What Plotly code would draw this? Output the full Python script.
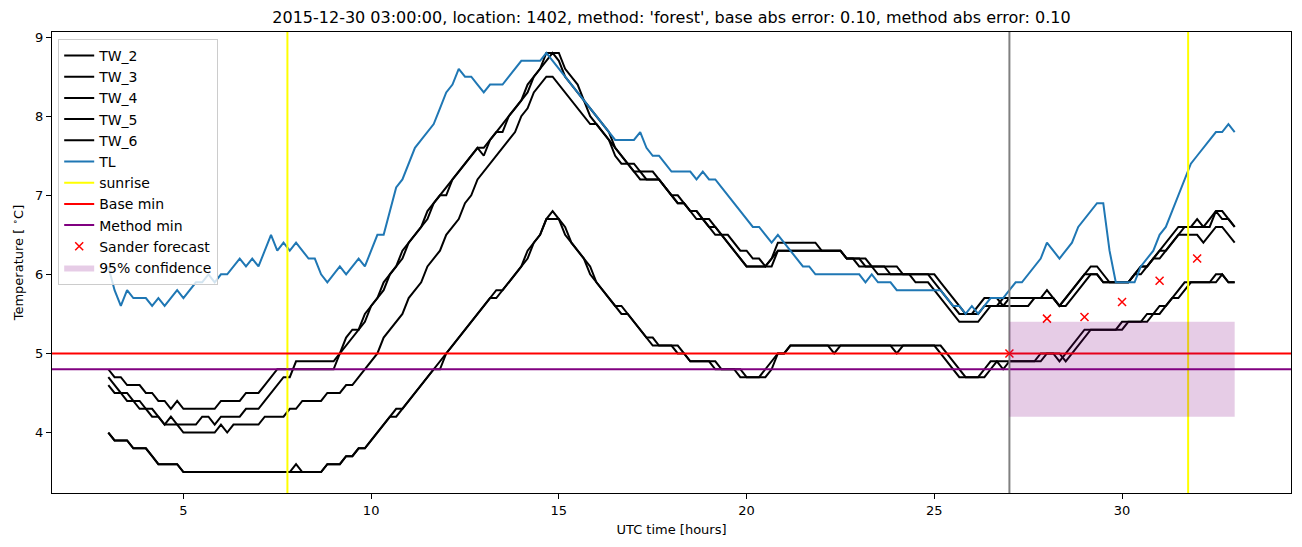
import plotly.graph_objects as go

# ---------------- data (10-minute samples, t = 3 .. 33 h) ----------------
t_start = 3.0
t_step = 1.0 / 6.0

TL = [
    6.1, 5.8, 5.6, 5.8, 5.7, 5.7,
    5.7, 5.6, 5.7, 5.6, 5.7, 5.8,
    5.7, 5.8, 5.9, 5.9, 6.0, 5.9,
    6.0, 6.0, 6.1, 6.2, 6.1, 6.2,
    6.1, 6.3, 6.5, 6.3, 6.4, 6.3,
    6.4, 6.3, 6.2, 6.2, 6.0, 5.9,
    6.0, 6.1, 6.0, 6.1, 6.2, 6.1,
    6.3, 6.5, 6.5, 6.8, 7.1, 7.2,
    7.4, 7.6, 7.7, 7.8, 7.9, 8.1,
    8.3, 8.4, 8.6, 8.5, 8.5, 8.4,
    8.3, 8.4, 8.4, 8.4, 8.5, 8.6,
    8.7, 8.7, 8.7, 8.7, 8.8, 8.7,
    8.6, 8.5, 8.4, 8.3, 8.2, 8.1,
    8.0, 7.9, 7.8, 7.7, 7.7, 7.7,
    7.7, 7.8, 7.6, 7.5, 7.5, 7.4,
    7.3, 7.3, 7.3, 7.3, 7.2, 7.3,
    7.2, 7.2, 7.1, 7.0, 6.9, 6.8,
    6.7, 6.6, 6.6, 6.5, 6.4, 6.5,
    6.4, 6.3, 6.2, 6.1, 6.1, 6.0,
    6.0, 6.0, 6.0, 6.0, 6.0, 6.0,
    6.0, 5.9, 6.0, 5.9, 5.9, 5.9,
    5.8, 5.8, 5.8, 5.8, 5.8, 5.8,
    5.8, 5.8, 5.7, 5.6, 5.6, 5.5,
    5.6, 5.5, 5.6, 5.7, 5.7, 5.7,
    5.8, 5.9, 5.9, 6.0, 6.1, 6.2,
    6.4, 6.3, 6.2, 6.3, 6.4, 6.6,
    6.7, 6.8, 6.9, 6.9, 6.3, 5.9,
    5.9, 5.9, 5.9, 6.1, 6.2, 6.3,
    6.5, 6.6, 6.8, 7.0, 7.2, 7.4,
    7.5, 7.6, 7.7, 7.8, 7.8, 7.9,
    7.8,
]

TW_2 = [
    4.8, 4.7, 4.7, 4.6, 4.6, 4.6,
    4.5, 4.5, 4.4, 4.4, 4.3, 4.4,
    4.3, 4.3, 4.3, 4.3, 4.3, 4.3,
    4.4, 4.4, 4.4, 4.4, 4.5, 4.5,
    4.5, 4.6, 4.7, 4.8, 4.8, 4.8,
    4.8, 4.8, 4.8, 4.8, 4.8, 4.8,
    4.8, 5.0, 5.1, 5.2, 5.3, 5.4,
    5.6, 5.7, 5.8, 6.0, 6.1, 6.2,
    6.4, 6.5, 6.6, 6.7, 6.9, 7.0,
    7.0, 7.2, 7.3, 7.4, 7.5, 7.6,
    7.6, 7.7, 7.8, 7.8, 8.0, 8.1,
    8.2, 8.3, 8.5, 8.6, 8.7, 8.8,
    8.7, 8.5, 8.4, 8.3, 8.2, 8.0,
    7.9, 7.8, 7.7, 7.5, 7.4, 7.4,
    7.4, 7.3, 7.3, 7.3, 7.2, 7.1,
    7.0, 7.0, 6.9, 6.8, 6.8, 6.7,
    6.7, 6.6, 6.5, 6.5, 6.4, 6.3,
    6.3, 6.2, 6.2, 6.1, 6.2, 6.4,
    6.4, 6.4, 6.4, 6.4, 6.4, 6.4,
    6.3, 6.3, 6.3, 6.3, 6.2, 6.2,
    6.2, 6.2, 6.1, 6.1, 6.1, 6.1,
    6.1, 6.0, 6.0, 6.0, 6.0, 6.0,
    6.0, 5.9, 5.8, 5.7, 5.6, 5.5,
    5.5, 5.6, 5.7, 5.7, 5.7, 5.6,
    5.6, 5.6, 5.6, 5.6, 5.7, 5.7,
    5.8, 5.7, 5.6, 5.7, 5.8, 5.9,
    6.0, 6.1, 6.1, 6.0, 5.9, 5.9,
    5.9, 5.9, 6.0, 6.0, 6.1, 6.2,
    6.3, 6.4, 6.5, 6.6, 6.6, 6.6,
    6.7, 6.6, 6.6, 6.8, 6.7, 6.7,
    6.6,
]

TW_3 = [
    4.7, 4.6, 4.5, 4.5, 4.4, 4.4,
    4.3, 4.3, 4.2, 4.1, 4.2, 4.1,
    4.1, 4.1, 4.1, 4.2, 4.2, 4.1,
    4.2, 4.2, 4.2, 4.2, 4.3, 4.3,
    4.3, 4.4, 4.5, 4.6, 4.7, 4.7,
    4.9, 4.9, 4.9, 4.9, 4.9, 4.9,
    4.9, 5.0, 5.2, 5.3, 5.3, 5.5,
    5.6, 5.7, 5.9, 6.0, 6.1, 6.3,
    6.4, 6.5, 6.6, 6.8, 6.9, 7.0,
    7.1, 7.2, 7.3, 7.4, 7.5, 7.6,
    7.5, 7.7, 7.8, 7.9, 8.0, 8.1,
    8.2, 8.4, 8.5, 8.6, 8.8, 8.8,
    8.8, 8.6, 8.5, 8.4, 8.2, 8.1,
    8.0, 7.9, 7.8, 7.6, 7.5, 7.4,
    7.3, 7.2, 7.2, 7.2, 7.2, 7.1,
    7.0, 6.9, 6.9, 6.8, 6.7, 6.7,
    6.6, 6.5, 6.5, 6.4, 6.3, 6.2,
    6.1, 6.1, 6.1, 6.1, 6.2, 6.3,
    6.3, 6.3, 6.3, 6.3, 6.3, 6.3,
    6.3, 6.3, 6.3, 6.3, 6.2, 6.2,
    6.2, 6.1, 6.1, 6.1, 6.1, 6.0,
    6.0, 6.0, 6.0, 5.9, 5.9, 5.9,
    5.8, 5.7, 5.6, 5.5, 5.4, 5.4,
    5.4, 5.4, 5.5, 5.6, 5.6, 5.7,
    5.7, 5.7, 5.7, 5.7, 5.7, 5.7,
    5.7, 5.7, 5.6, 5.6, 5.7, 5.8,
    5.9, 6.0, 6.0, 5.9, 5.9, 5.9,
    5.9, 5.9, 6.0, 6.1, 6.1, 6.2,
    6.3, 6.3, 6.4, 6.5, 6.5, 6.5,
    6.5, 6.4, 6.5, 6.6, 6.6, 6.5,
    6.4,
]

TW_4 = [
    4.6, 4.5, 4.5, 4.4, 4.4, 4.3,
    4.3, 4.2, 4.2, 4.1, 4.1, 4.1,
    4.0, 4.0, 4.0, 4.0, 4.0, 4.0,
    4.1, 4.0, 4.1, 4.1, 4.1, 4.1,
    4.1, 4.2, 4.2, 4.2, 4.2, 4.3,
    4.3, 4.4, 4.4, 4.4, 4.4, 4.5,
    4.5, 4.5, 4.6, 4.6, 4.7, 4.8,
    4.9, 5.0, 5.2, 5.3, 5.4, 5.5,
    5.7, 5.8, 5.9, 6.1, 6.2, 6.3,
    6.5, 6.6, 6.7, 6.9, 7.0, 7.2,
    7.3, 7.4, 7.5, 7.6, 7.7, 7.8,
    8.0, 8.1, 8.3, 8.4, 8.5, 8.5,
    8.4, 8.3, 8.2, 8.1, 8.0, 7.9,
    7.9, 7.8, 7.7, 7.6, 7.5, 7.4,
    7.3, 7.3, 7.2, 7.2, 7.2, 7.1,
    7.0, 6.9, 6.9, 6.8, 6.8, 6.7,
    6.6, 6.6, 6.5, 6.4, 6.3, 6.2,
    6.1, 6.1, 6.1, 6.1, 6.1, 6.3,
    6.3, 6.3, 6.3, 6.3, 6.3, 6.3,
    6.3, 6.3, 6.3, 6.3, 6.2, 6.2,
    6.1, 6.1, 6.1, 6.0, 6.0, 6.0,
    6.0, 6.0, 6.0, 6.0, 6.0, 6.0,
    5.9, 5.8, 5.7, 5.6, 5.5, 5.5,
    5.5, 5.5, 5.6, 5.6, 5.6, 5.6,
    5.7, 5.7, 5.7, 5.7, 5.7, 5.7,
    5.7, 5.7, 5.6, 5.7, 5.8, 5.9,
    6.0, 6.0, 6.0, 5.9, 5.9, 5.9,
    5.9, 5.9, 6.0, 6.1, 6.1, 6.2,
    6.2, 6.3, 6.4, 6.5, 6.6, 6.6,
    6.6, 6.6, 6.7, 6.8, 6.8, 6.7,
    6.6,
]

TW_5 = [
    4.0, 3.9, 3.9, 3.9, 3.8, 3.8,
    3.8, 3.7, 3.6, 3.6, 3.6, 3.6,
    3.5, 3.5, 3.5, 3.5, 3.5, 3.5,
    3.5, 3.5, 3.5, 3.5, 3.5, 3.5,
    3.5, 3.5, 3.5, 3.5, 3.5, 3.5,
    3.6, 3.5, 3.5, 3.5, 3.5, 3.6,
    3.6, 3.6, 3.7, 3.7, 3.8, 3.8,
    3.9, 4.0, 4.1, 4.2, 4.3, 4.3,
    4.4, 4.5, 4.6, 4.7, 4.8, 4.9,
    5.0, 5.1, 5.2, 5.3, 5.4, 5.5,
    5.6, 5.7, 5.8, 5.8, 5.9, 6.0,
    6.1, 6.3, 6.4, 6.5, 6.7, 6.8,
    6.7, 6.5, 6.4, 6.3, 6.2, 6.0,
    5.9, 5.8, 5.7, 5.6, 5.5, 5.5,
    5.4, 5.3, 5.2, 5.1, 5.1, 5.1,
    5.1, 5.0, 5.0, 4.9, 4.9, 4.9,
    4.9, 4.8, 4.8, 4.8, 4.8, 4.7,
    4.7, 4.7, 4.7, 4.8, 4.9, 5.0,
    5.0, 5.1, 5.1, 5.1, 5.1, 5.1,
    5.1, 5.1, 5.0, 5.1, 5.1, 5.1,
    5.1, 5.1, 5.1, 5.1, 5.1, 5.1,
    5.1, 5.1, 5.1, 5.1, 5.1, 5.1,
    5.1, 5.0, 4.9, 4.8, 4.7, 4.7,
    4.7, 4.7, 4.8, 4.9, 4.9, 4.8,
    4.9, 4.9, 4.9, 4.9, 4.9, 5.0,
    5.0, 5.0, 4.9, 5.0, 5.1, 5.2,
    5.3, 5.3, 5.3, 5.3, 5.3, 5.3,
    5.4, 5.4, 5.4, 5.4, 5.5, 5.5,
    5.6, 5.6, 5.7, 5.8, 5.9, 5.9,
    5.9, 5.9, 5.9, 5.9, 6.0, 5.9,
    5.9,
]

TW_6 = [
    4.0, 3.9, 3.9, 3.9, 3.8, 3.8,
    3.8, 3.7, 3.6, 3.6, 3.6, 3.6,
    3.5, 3.5, 3.5, 3.5, 3.5, 3.5,
    3.5, 3.5, 3.5, 3.5, 3.5, 3.5,
    3.5, 3.5, 3.5, 3.5, 3.5, 3.5,
    3.5, 3.5, 3.5, 3.5, 3.5, 3.6,
    3.6, 3.6, 3.7, 3.7, 3.8, 3.8,
    3.9, 4.0, 4.1, 4.2, 4.2, 4.3,
    4.4, 4.5, 4.6, 4.7, 4.8, 4.8,
    5.0, 5.1, 5.2, 5.3, 5.4, 5.5,
    5.6, 5.7, 5.7, 5.8, 5.9, 6.0,
    6.1, 6.2, 6.4, 6.5, 6.7, 6.7,
    6.7, 6.6, 6.4, 6.3, 6.2, 6.1,
    5.9, 5.8, 5.7, 5.6, 5.6, 5.5,
    5.4, 5.3, 5.2, 5.2, 5.1, 5.1,
    5.1, 5.1, 5.0, 4.9, 4.9, 4.9,
    4.9, 4.9, 4.8, 4.8, 4.8, 4.8,
    4.7, 4.7, 4.7, 4.7, 4.8, 5.0,
    5.0, 5.1, 5.1, 5.1, 5.1, 5.1,
    5.1, 5.1, 5.1, 5.1, 5.1, 5.1,
    5.1, 5.1, 5.1, 5.1, 5.1, 5.1,
    5.0, 5.1, 5.1, 5.1, 5.1, 5.1,
    5.1, 5.1, 5.0, 4.9, 4.8, 4.7,
    4.7, 4.7, 4.7, 4.8, 4.9, 4.9,
    4.9, 4.9, 4.9, 4.9, 4.9, 4.9,
    5.0, 5.0, 5.0, 4.9, 5.0, 5.1,
    5.2, 5.3, 5.3, 5.3, 5.3, 5.3,
    5.3, 5.4, 5.4, 5.4, 5.4, 5.5,
    5.5, 5.6, 5.7, 5.7, 5.8, 5.9,
    5.9, 5.9, 5.9, 6.0, 6.0, 5.9,
    5.9,
]

series_names = ["TW_2", "TW_3", "TW_4", "TW_5", "TW_6"]
series_values = [TW_2, TW_3, TW_4, TW_5, TW_6]

sunrise_times = [7.77, 31.76]
forecast_time = 27.0
base_min = 5.0
method_min = 4.8
sander_times = [27, 28, 29, 30, 31, 32]
sander_values = [5.0, 5.44, 5.46, 5.65, 5.92, 6.2]
conf_start, conf_end = 27.0, 33.0
conf_low, conf_high = 4.2, 5.4

title_text = ("2015-12-30 03:00:00, location: 1402, method: 'forest', "
              "base abs error: 0.10, method abs error: 0.10")

# axis limits (matplotlib-style 5% margins)
x_lo, x_hi = 1.5, 34.5
y_lo, y_hi = 3.235, 9.065

times = [t_start + i * t_step for i in range(len(TL))]

fig = go.Figure()

for name, vals in zip(series_names, series_values):
    fig.add_trace(go.Scatter(x=times, y=vals, mode="lines", name=name,
                             line=dict(color="black", width=2)))

fig.add_trace(go.Scatter(x=times, y=TL, mode="lines", name="TL",
                         line=dict(color="#1f77b4", width=2)))

for k, ts in enumerate(sunrise_times):
    fig.add_trace(go.Scatter(x=[ts, ts], y=[y_lo, y_hi], mode="lines",
                             name="sunrise", legendgroup="sunrise",
                             showlegend=(k == 0),
                             line=dict(color="#ffff00", width=2)))

fig.add_trace(go.Scatter(x=[x_lo, x_hi], y=[base_min, base_min], mode="lines",
                         name="Base min", line=dict(color="#ff0000", width=2)))
fig.add_trace(go.Scatter(x=[x_lo, x_hi], y=[method_min, method_min], mode="lines",
                         name="Method min", line=dict(color="#800080", width=2)))

fig.add_trace(go.Scatter(x=[forecast_time, forecast_time], y=[y_lo, y_hi],
                         mode="lines", showlegend=False, hoverinfo="skip",
                         line=dict(color="#808080", width=2)))

fig.add_trace(go.Scatter(x=sander_times, y=sander_values, mode="markers",
                         name="Sander forecast",
                         marker=dict(symbol="x-thin", size=8, color="#ff0000",
                                     line=dict(color="#ff0000", width=1.5))))

fig.add_trace(go.Scatter(x=[conf_start, conf_end, conf_end, conf_start, conf_start],
                         y=[conf_low, conf_low, conf_high, conf_high, conf_low],
                         mode="lines", fill="toself",
                         fillcolor="rgba(128,0,128,0.2)",
                         line=dict(width=0, color="rgba(128,0,128,0)"),
                         name="95% confidence"))

axis_common = dict(showgrid=False, zeroline=False, showline=True, mirror=True,
                   linecolor="black", linewidth=1, ticks="outside", ticklen=5,
                   tickwidth=1, tickcolor="black",
                   tickfont=dict(size=13, color="black"))

fig.update_layout(
    width=1302, height=547,
    margin=dict(l=52, r=11, t=32, b=54),
    paper_bgcolor="white", plot_bgcolor="white",
    font=dict(family="DejaVu Sans", size=13, color="black"),
    title=dict(text=title_text, x=0.5, xref="paper", xanchor="center",
               y=1 - 17 / 547, yref="container", yanchor="middle",
               font=dict(size=16, color="black")),
    xaxis=dict(range=[x_lo, x_hi], tickvals=[5, 10, 15, 20, 25, 30],
               title=dict(text="UTC time [hours]", font=dict(size=13), standoff=8),
               **axis_common),
    yaxis=dict(range=[y_lo, y_hi], tickvals=[4, 5, 6, 7, 8, 9],
               title=dict(text="Temperature [ <sup>∘</sup>C]", font=dict(size=13),
                          standoff=8),
               **axis_common),
    legend=dict(x=0.005, y=0.985, xanchor="left", yanchor="top",
                bgcolor="rgba(255,255,255,0.8)", bordercolor="#cccccc",
                borderwidth=1, font=dict(size=14), traceorder="normal"),
    showlegend=True,
)

fig.write_html("out.html")
